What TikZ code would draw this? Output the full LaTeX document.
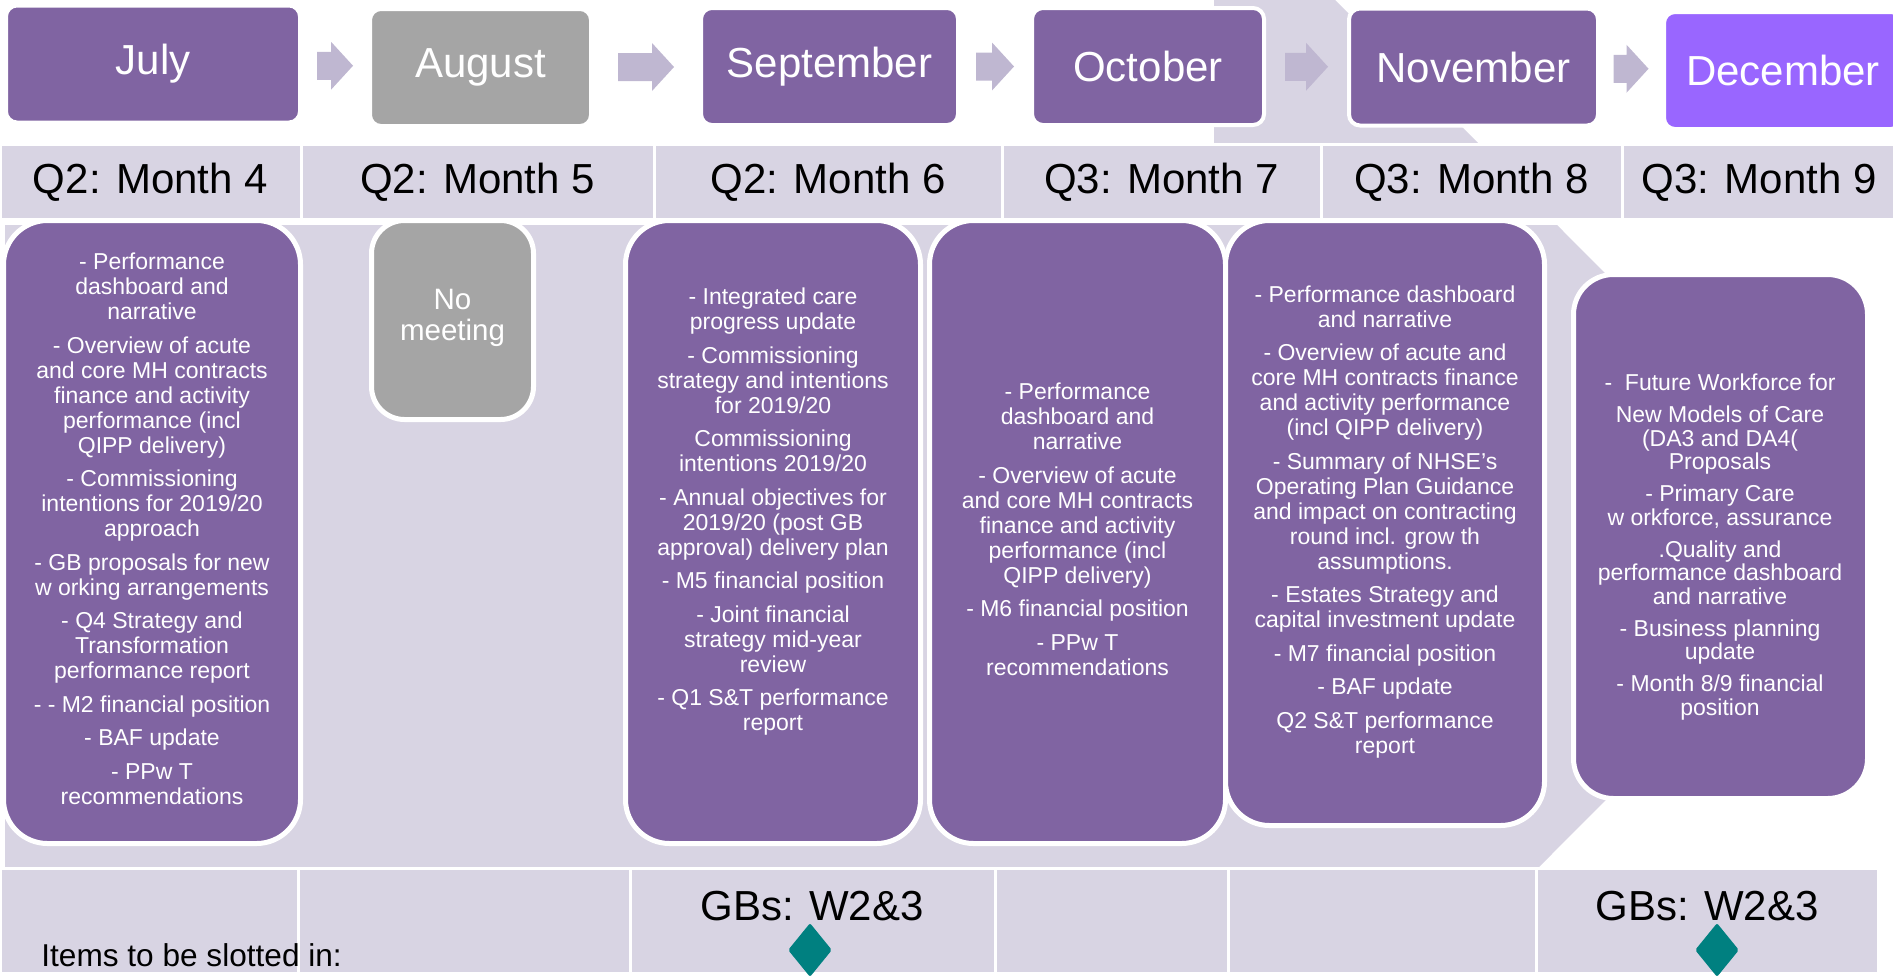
\documentclass[tikz,border=0pt]{standalone}
\usepackage{fontspec}
\setmainfont{Liberation Sans}
\usetikzlibrary{shapes.geometric,calc}
\definecolor{purp}{HTML}{8064A2}
\definecolor{grayb}{HTML}{A5A5A5}
\definecolor{decp}{HTML}{9966FF}
\definecolor{lav}{HTML}{D8D4E3}
\definecolor{arrc}{HTML}{BFB7D1}
\definecolor{tealc}{HTML}{008080}
\newcommand\gapline{\\[4.25pt]}
\begin{document}
\begin{tikzpicture}[x=0.5pt,y=-0.5pt,
  mbox/.style={rectangle, rounded corners=5.5pt, draw=white, line width=2pt, fill=purp, text=white, font=\fontsize{21}{24}\selectfont, inner sep=0pt, minimum height=58.5pt},
  qcell/.style={rectangle, draw=white, line width=1.5pt, fill=lav, text=black, font=\fontsize{21}{24}\selectfont, inner sep=0pt},
  bbox/.style={rectangle, rounded corners=22pt, draw=white, line width=2.5pt, fill=purp, inner sep=0pt},
  btext/.style={text=white, align=center, font=\fontsize{11.5}{12.5}\selectfont, inner sep=0pt},
  gbtext/.style={text=black, font=\fontsize{21}{24}\selectfont, inner sep=0pt},
  gem/.style={diamond, fill=tealc, inner sep=0pt, minimum width=22pt, minimum height=27pt, rounded corners=1pt},
  pics/barrow/.style={code={\fill[arrc] (-#1/2,-14) -- (#1/2-22,-14) -- (#1/2-22,-24) -- (#1/2,0) -- (#1/2-22,24) -- (#1/2-22,14) -- (-#1/2,14) -- cycle;}}
]
\useasboundingbox (0,0) rectangle (1893,975);

% light shape behind October / November
\fill[lav] (1214,0) -- (1335,0) -- (1478,143) -- (1214,143) -- cycle;

% month boxes
\node[mbox, minimum width=147pt] (julyM) at (153,64) {July};
\node[mbox, fill=grayb, minimum width=110.5pt] (augM) at (480.5,67.5) {August};
\node[mbox, minimum width=128.5pt] (sepM) at (829.5,66.5) {September};
\node[mbox, minimum width=116pt] (octM) at (1148,66.5) {October};
\node[mbox, minimum width=124.5pt] (novM) at (1473.5,67) {November};
\node[mbox, fill=decp, minimum width=119pt] (decM) at (1783,70.5) {December};

% block arrows between months
\pic at ($(julyM.east)!0.5!(augM.west)$) {barrow=36};
\pic at ($(augM.east)!0.5!(sepM.west)$) {barrow=56};
\pic at ($(sepM.east)!0.5!(octM.west)$) {barrow=38};
\pic at ($(octM.east)!0.5!(novM.west)$) {barrow=43};
\pic at ($(novM.east)!0.5!(decM.west)$) {barrow=35};

% quarter row
\node[qcell, minimum width=150.5pt, minimum height=37.5pt] (q4) at (150.5,182) {Q2: Month 4};
\node[qcell, minimum width=176.5pt, minimum height=37.5pt] (q5) at (477.5,182) {Q2: Month 5};
\node[qcell, minimum width=174pt, minimum height=37.5pt] (q6) at (828,182) {Q2: Month 6};
\node[qcell, minimum width=159.5pt, minimum height=37.5pt] (q7) at (1161.5,182) {Q3: Month 7};
\node[qcell, minimum width=150.5pt, minimum height=37.5pt] (q8) at (1471.5,182) {Q3: Month 8};
\node[qcell, minimum width=137pt, minimum height=37.5pt] (q9) at (1759,182) {Q3: Month 9};

% body background arrow
\fill[lav] (5,225) -- (1557,225) -- (1868,537) -- (1538,868) -- (5,868) -- cycle;

% body boxes
\node[bbox, minimum width=148.5pt, minimum height=311.5pt] (julyB) at (152,532) {};
\node[bbox, fill=grayb, rounded corners=16.5pt, minimum width=81pt, minimum height=99.5pt] (nomB) at (452.5,320) {};
\node[bbox, minimum width=147.5pt, minimum height=311.5pt] (sepB) at (773,532) {};
\node[bbox, minimum width=148pt, minimum height=311.5pt] (octB) at (1077.5,532) {};
\node[bbox, minimum width=159.5pt, minimum height=302.5pt] (novB) at (1385,523) {};
\node[bbox, rounded corners=20pt, minimum width=147pt, minimum height=262pt] (decB) at (1720.5,536.5) {};

% body texts
\node[btext] (julyT) at (152,529) {- Performance\\dashboard and\\narrative\gapline
- Overview of acute\\and core MH contracts\\finance and activity\\performance (incl\\QIPP delivery)\gapline
- Commissioning\\intentions for 2019/20\\approach\gapline
- GB proposals for new\\w orking arrangements\gapline
- Q4 Strategy and\\Transformation\\performance report\gapline
- - M2 financial position\gapline
- BAF update\gapline
- PPw T\\recommendations};

\node[btext, font=\fontsize{14.75}{15.5}\selectfont] (nomT) at (452.5,318) {No\\meeting};

\node[btext] (sepT) at (773,512) {- Integrated care\\progress update\gapline
- Commissioning\\strategy and intentions\\for 2019/20\gapline
Commissioning\\intentions 2019/20\gapline
- Annual objectives for\\2019/20 (post GB\\approval) delivery plan\gapline
- M5 financial position\gapline
- Joint financial\\strategy mid-year\\review\gapline
- Q1 S\&T performance\\report};

\node[btext] (octT) at (1077.5,529.5) {- Performance\\dashboard and\\narrative\gapline
- Overview of acute\\and core MH contracts\\finance and activity\\performance (incl\\QIPP delivery)\gapline
- M6 financial position\gapline
- PPw T\\recommendations};

\node[btext] (novT) at (1385,522) {- Performance dashboard\\and narrative\gapline
- Overview of acute and\\core MH contracts finance\\and activity performance\\(incl QIPP delivery)\gapline
- Summary of NHSE’s\\Operating Plan Guidance\\and impact on contracting\\round incl. grow th\\assumptions.\gapline
- Estates Strategy and\\capital investment update\gapline
- M7 financial position\gapline
- BAF update\gapline
Q2 S\&T performance\\report};

\node[btext, font=\fontsize{11.5}{11.75}\selectfont] (decT) at (1720,547) {-\ \ Future Workforce for\gapline
New Models of Care\\(DA3 and DA4(\\Proposals\gapline
- Primary Care\\w orkforce, assurance\gapline
.Quality and\\performance dashboard\\and narrative\gapline
- Business planning\\update\gapline
- Month 8/9 financial\\position};

% bottom row
\node[qcell, minimum width=149pt, minimum height=52.5pt] (b1) at (149,921) {};
\node[qcell, minimum width=166pt, minimum height=52.5pt] (b2) at (464,921) {};
\node[qcell, minimum width=182.5pt, minimum height=52.5pt] (b3) at (812.5,921) {};
\node[qcell, minimum width=116.5pt, minimum height=52.5pt] (b4) at (1111.5,921) {};
\node[qcell, minimum width=154pt, minimum height=52.5pt] (b5) at (1382,921) {};
\node[qcell, minimum width=171pt, minimum height=52.5pt] (b6) at (1707,921) {};

\node[gbtext] (gb1) at (812,906) {GBs: W2\&3};
\node[gbtext] (gb2) at (1707,906) {GBs: W2\&3};
\node[gem] (d1) at (810,950) {};
\node[gem] (d2) at (1717,950) {};

\node[anchor=base west, inner sep=0pt, font=\fontsize{15.8}{18}\selectfont] (items) at (41,966) {Items to be slotted in:};
\end{tikzpicture}
\end{document}
